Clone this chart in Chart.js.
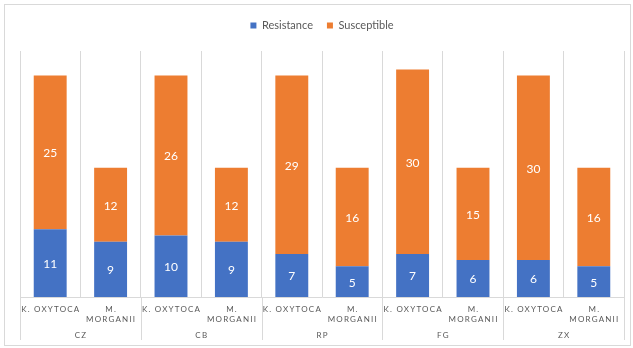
<!DOCTYPE html>
<html>
<head>
<meta charset="utf-8">
<script src="https://cdn.jsdelivr.net/npm/chart.js@4.4.1/dist/chart.umd.min.js"></script>
<style>
  html, body { margin: 0; padding: 0; background: #fff; }
  #wrap { width: 633px; height: 348px; }
</style>
</head>
<body>
<div id="wrap"><canvas id="chart" width="633" height="348"></canvas></div>
<script>
// Sites and the two species tested at each one
const groups = ['CZ', 'CB', 'RP', 'FG', 'ZX'];
const species = [['K. OXYTOCA'], ['M.', 'MORGANII']];

// Isolate counts per bar, in order: site by site, species within site
const resistance  = [11, 9, 10, 9, 7, 5, 7, 6, 6, 5];
const susceptible = [25, 12, 26, 12, 29, 16, 30, 15, 30, 16];

const labels = groups.flatMap(g => species.map(s => s.join(' ')));

const TEXT = '#595959';
const LINE = '#d9d9d9';
const FONT = 'Lato, "Open Sans", sans-serif';

// Light frame around the whole chart
const frame = {
  id: 'frame',
  beforeDraw(chart) {
    const { ctx, width, height } = chart;
    ctx.save();
    ctx.fillStyle = '#fff';
    ctx.fillRect(0, 0, width, height);
    ctx.strokeStyle = LINE;
    ctx.lineWidth = 1;
    ctx.strokeRect(4.5, 4.5, width - 7, height - 7);
    ctx.restore();
  }
};

// Extra room between the legend and the plot
const legendGap = {
  id: 'legendGap',
  beforeInit(chart) {
    const fit = chart.legend.fit;
    chart.legend.fit = function () {
      fit.call(this);
      this.height += 10;
    };
  }
};

// Value written in the middle of each bar segment
const segmentValues = {
  id: 'segmentValues',
  afterDatasetsDraw(chart) {
    const { ctx } = chart;
    ctx.save();
    ctx.fillStyle = '#ffffff';
    ctx.font = '12px ' + FONT;
    ctx.textAlign = 'center';
    ctx.textBaseline = 'middle';
    chart.data.datasets.forEach((ds, di) => {
      const meta = chart.getDatasetMeta(di);
      meta.data.forEach((bar, i) => {
        const p = bar.getProps(['x', 'y', 'base'], true);
        ctx.fillText(String(ds.data[i]), p.x, (p.y + p.base) / 2 + 1);
      });
    });
    ctx.restore();
  }
};

// Two-level category axis: species names, then site names with dividers
const groupedAxis = {
  id: 'groupedAxis',
  afterDraw(chart) {
    const { ctx, chartArea: a, scales: { x } } = chart;
    const n = labels.length;
    const per = species.length;
    const slot = (a.right - a.left) / n;
    const spacing = 1.2;
    ctx.save();
    ctx.strokeStyle = LINE;
    ctx.lineWidth = 1;
    for (let g = 0; g <= groups.length; g++) {
      const px = Math.round(a.left + g * per * slot) + 0.5;
      ctx.beginPath();
      ctx.moveTo(px, a.bottom);
      ctx.lineTo(px, a.bottom + 43);
      ctx.stroke();
    }
    ctx.fillStyle = TEXT;
    ctx.textAlign = 'center';
    ctx.textBaseline = 'middle';
    ctx.font = '8px ' + FONT;
    ctx.letterSpacing = spacing + 'px';
    for (let i = 0; i < n; i++) {
      const cx = x.getPixelForValue(i) + spacing / 2;
      const lines = species[i % per];
      lines.forEach((t, li) => ctx.fillText(t, cx, a.bottom + 12 + li * 10));
    }
    groups.forEach((g, gi) => {
      const cx = a.left + (gi + 0.5) * per * slot + spacing / 2;
      ctx.fillText(g, cx, a.bottom + 38);
    });
    ctx.restore();
  }
};

new Chart(document.getElementById('chart'), {
  type: 'bar',
  data: {
    labels,
    datasets: [
      { label: 'Resistance',  data: resistance,  backgroundColor: '#4472C4' },
      { label: 'Susceptible', data: susceptible, backgroundColor: '#ED7D31' }
    ]
  },
  options: {
    responsive: false,
    animation: false,
    devicePixelRatio: 1,
    layout: { padding: { left: 20, right: 9, top: 6, bottom: 51 } },
    datasets: { bar: { categoryPercentage: 1, barPercentage: 0.545 } },
    plugins: {
      legend: {
        position: 'top',
        labels: {
          boxWidth: 6, boxHeight: 6, padding: 14,
          color: TEXT, font: { family: FONT, size: 11 }
        }
      },
      tooltip: { enabled: false }
    },
    scales: {
      x: {
        stacked: true,
        ticks: { display: false },
        grid: { offset: true, color: LINE, drawTicks: false },
        border: { display: true, color: LINE }
      },
      y: {
        stacked: true,
        display: false,
        min: 0,
        max: 40
      }
    }
  },
  plugins: [frame, legendGap, segmentValues, groupedAxis]
});
</script>
</body>
</html>
